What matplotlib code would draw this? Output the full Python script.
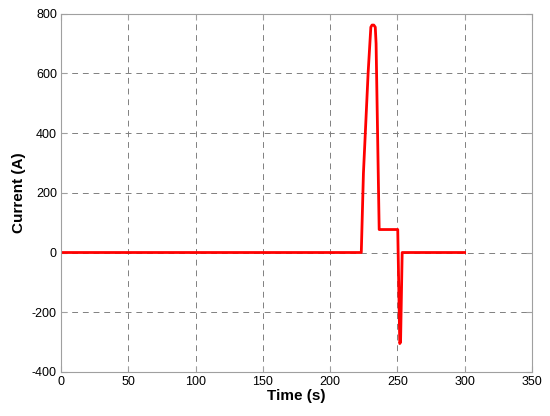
import matplotlib
matplotlib.use("Agg")
import matplotlib.pyplot as plt

plt.rcParams['font.family'] = ['Liberation Sans', 'DejaVu Sans']
plt.rcParams['axes.unicode_minus'] = False

# current profile
time_s = [0, 223.2, 224.8, 228.3, 230.3, 231.2, 232.5, 233.6, 234.2, 236.5, 250.3, 251.8, 252.4, 253.6, 300]
current_a = [0, 0, 266, 603, 755, 762, 762, 755, 700, 77, 77, -305, -300, 0, 0]

xticks = [0, 50, 100, 150, 200, 250, 300, 350]
yticks = [-400, -200, 0, 200, 400, 600, 800]

fig = plt.figure(figsize=(5.5, 4.16), dpi=100)
ax = fig.add_axes([0.111, 0.106, 0.856, 0.861])

ax.plot(time_s, current_a, color='red', linewidth=2.0)

ax.set_xlim(0, 350)
ax.set_ylim(-400, 800)
ax.set_xticks(xticks)
ax.set_yticks(yticks)
ax.grid(True, linestyle=(0, (6, 5)), color='#808080', linewidth=0.7)
for s in ax.spines.values():
    s.set_color('#a0a0a0')
ax.tick_params(direction='in', length=4, color='#a0a0a0', labelsize=9, pad=3,
               top=True, right=True)

ax.set_xlabel('Time (s)', fontsize=11, fontweight='bold', labelpad=1)
ax.set_ylabel('Current (A)', fontsize=11, fontweight='bold', labelpad=4)

fig.savefig('out.png', dpi=100)
